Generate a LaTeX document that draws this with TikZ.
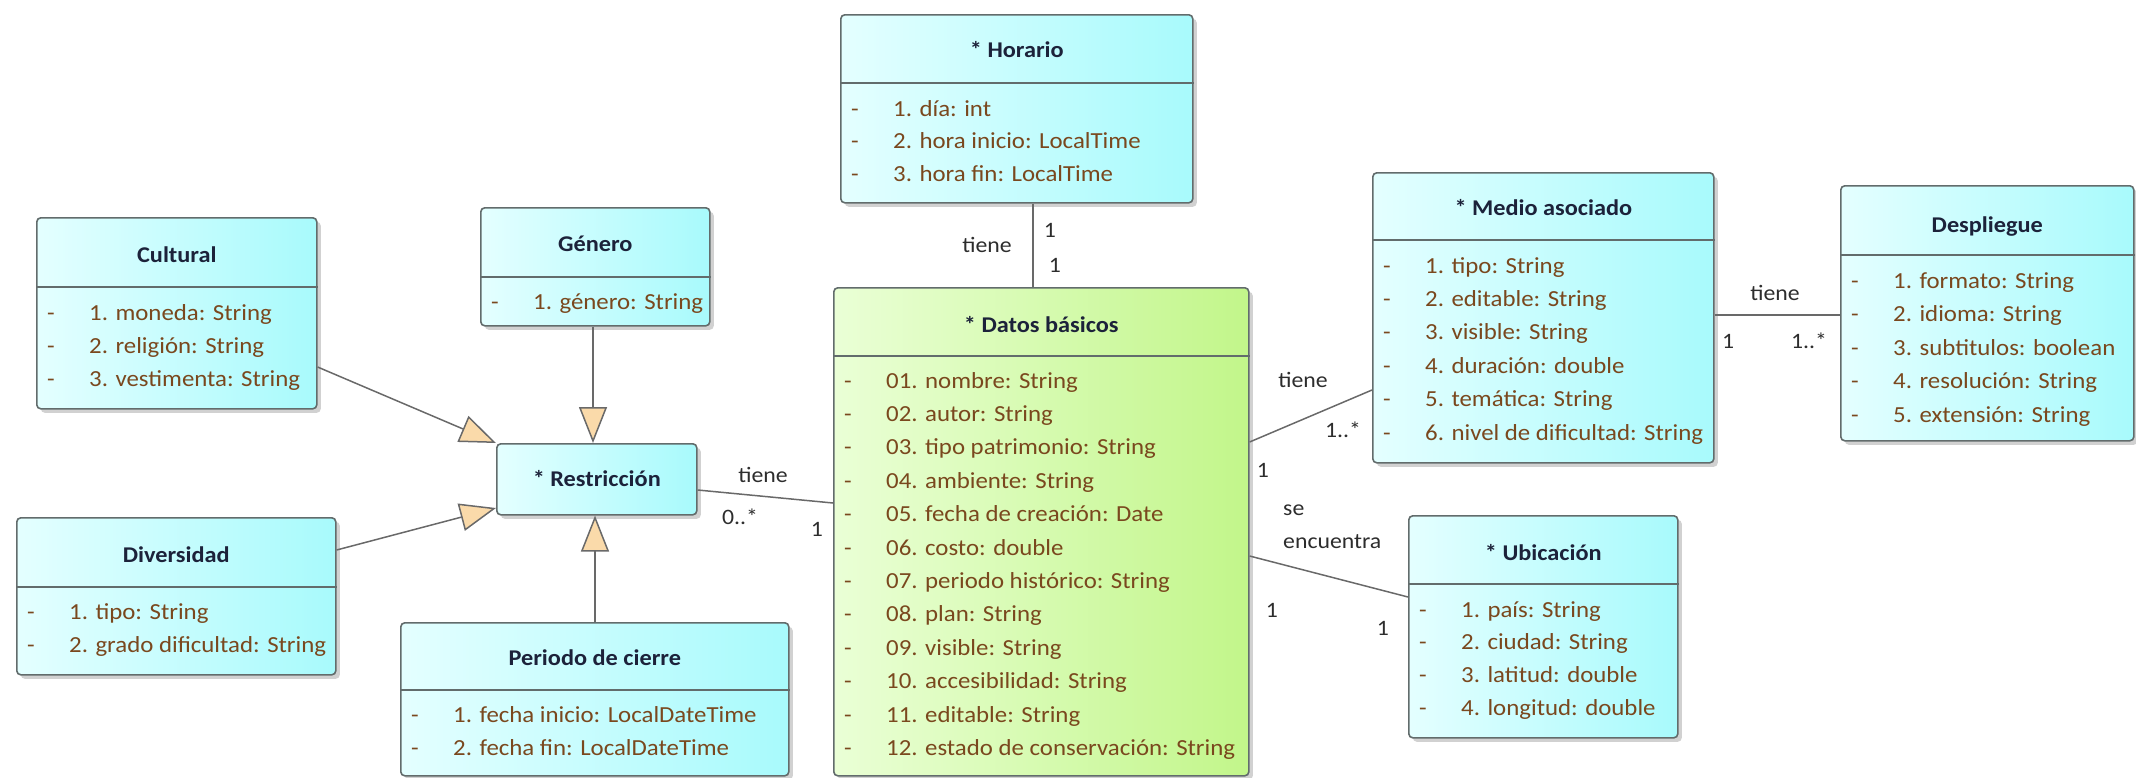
\documentclass[tikz,border=0pt]{standalone}
\usepackage{fontspec}
\setmainfont{Carlito}[FakeStretch=1.08]
\usetikzlibrary{arrows.meta,shadows}

\definecolor{cyanL}{RGB}{228,255,255}
\definecolor{cyanR}{RGB}{168,250,252}
\definecolor{greenL}{RGB}{234,255,214}
\definecolor{greenR}{RGB}{194,246,138}
\definecolor{bordc}{RGB}{98,108,108}
\definecolor{attrc}{RGB}{122,72,30}
\definecolor{titlec}{RGB}{28,34,58}
\definecolor{labc}{RGB}{45,45,45}
\definecolor{tanc}{RGB}{250,218,170}
\definecolor{linec}{RGB}{105,105,105}

\tikzset{
  clsbase/.style={draw=bordc, line width=1.6pt, rounded corners=4pt, anchor=north west, inner sep=0pt,
    drop shadow={opacity=0.3, shadow xshift=4pt, shadow yshift=-4pt, fill=black!60}},
  clsc/.style={clsbase, left color=cyanL, right color=cyanR},
  clsg/.style={clsbase, left color=greenL, right color=greenR},
  divline/.style={draw=bordc, line width=1.6pt},
  ttl/.style={font=\fontsize{22.5}{26}\selectfont\bfseries, text=titlec, inner sep=0pt, text height=15pt, text depth=5pt},
  attr/.style={font=\fontsize{23}{26}\selectfont, text=attrc, inner sep=0pt, text height=15pt, text depth=5pt, anchor=west},
  dsh/.style={font=\fontsize{23}{26}\selectfont, text=attrc, inner sep=0pt, text height=15pt, text depth=5pt},
  lab/.style={font=\fontsize{22}{26}\selectfont, text=labc, inner sep=0pt, text height=15pt, text depth=5pt},
  conn/.style={draw=linec, line width=1.5pt},
  gen/.style={conn, -{Triangle[width=28pt,length=36pt,fill=tanc,line width=1.5pt]}},
}

% #1 name, #2 style, #3 x1, #4 y1, #5 x2, #6 y2, #7 divider y, #8 title, #9 title y
\newcommand{\classbox}[9]{%
  \pgfmathsetmacro{\bw}{#5-#3}%
  \pgfmathsetmacro{\bh}{#6-#4}%
  \node[#2, minimum width=\bw pt, minimum height=\bh pt] (#1) at (#3,#4) {};
  \ifx\relax#7\relax\else
    \draw[divline] (#1.west |- 0,#7) -- (#1.east |- 0,#7);
  \fi
  \node[ttl] (#1-title) at (#1.center |- 0,#9) {#8};
}
% #1 name, #2 x1, #3 first y, #4 step, #5 list
\newcommand{\attrrows}[5]{%
  \foreach \t [count=\i] in {#5} {
    \pgfmathsetmacro{\yy}{#3+(\i-1)*#4}
    \node[dsh] (#1-d\i) at (#2+15,\yy) {-};
    \node[attr] (#1-r\i) at (#2+53,\yy) {\t};
  }
}

\begin{document}
\begin{tikzpicture}[x=1pt,y=-1pt]
\useasboundingbox (0,0) rectangle (2136,777);

% classes
\classbox{horario}{clsc}{840}{14}{1192}{202}{83}{* Horario}{52}
\attrrows{horario}{840}{111}{32.5}{1. día: int, 2. hora inicio: LocalTime, 3. hora fin: LocalTime}

\classbox{genero}{clsc}{480}{207}{709}{325}{277}{Género}{246}
\attrrows{genero}{480}{304}{33}{1. género: String}

\classbox{cultural}{clsc}{36}{217}{316}{408}{287}{Cultural}{257}
\attrrows{cultural}{36}{315}{33}{1. moneda: String, 2. religión: String, 3. vestimenta: String}

\classbox{restr}{clsc}{496}{443}{696}{514}{}{* Restricción}{481}

\classbox{diversidad}{clsc}{16}{517}{335}{674}{587}{Diversidad}{557}
\attrrows{diversidad}{16}{614}{33.5}{1. tipo: String, 2. grado dificultad: String}

\classbox{periodo}{clsc}{400}{622}{788}{775}{690}{Periodo de cierre}{660}
\attrrows{periodo}{400}{717}{33}{1. fecha inicio: LocalDateTime, 2. fecha fin: LocalDateTime}

\classbox{datos}{clsg}{833}{287}{1248}{775}{356}{* Datos básicos}{327}
\attrrows{datos}{833}{383}{33.4}{01. nombre: String, 02. autor: String, 03. tipo patrimonio: String, 04. ambiente: String, 05. fecha de creación: Date, 06. costo: double, 07. periodo histórico: String, 08. plan: String, 09. visible: String, 10. accesibilidad: String, 11. editable: String, 12. estado de conservación: String}

\classbox{medio}{clsc}{1372}{172}{1713}{462}{240}{* Medio asociado}{210}
\attrrows{medio}{1372}{268}{33.4}{1. tipo: String, 2. editable: String, 3. visible: String, 4. duración: double, 5. temática: String, 6. nivel de dificultad: String}

\classbox{despliegue}{clsc}{1840}{185}{2133}{440}{255}{Despliegue}{227}
\attrrows{despliegue}{1840}{283}{33.5}{1. formato: String, 2. idioma: String, 3. subtitulos: boolean, 4. resolución: String, 5. extensión: String}

\classbox{ubicacion}{clsc}{1408}{515}{1677}{737}{584}{* Ubicación}{555}
\attrrows{ubicacion}{1408}{612}{32.8}{1. país: String, 2. ciudad: String, 3. latitud: double, 4. longitud: double}

% associations
\draw[conn] (horario.south -| 1033,0) -- (datos.north -| 1033,0);
\node[lab] (lhd) at (987,247) {tiene};
\node[lab] (lhd1) at (1050,232) {1};
\node[lab] (lhd2) at (1055,267) {1};

\draw[conn] (medio.east |- 0,315) -- (despliegue.west |- 0,315);
\node[lab] (lmd) at (1775,295) {tiene};
\node[lab] (lmd1) at (1728,343) {1};
\node[lab] (lmd2) at (1809,343) {1..*};

\draw[conn] (datos.east |- 0,442) -- (medio.west |- 0,390);
\node[lab] (ldm) at (1303,382) {tiene};
\node[lab] (ldm1) at (1343,432) {1..*};
\node[lab] (ldm2) at (1263,472) {1};

\draw[conn] (datos.east |- 0,556) -- (ubicacion.west |- 0,597);
\node[lab, anchor=west] (ldu) at (1283,510) {se};
\node[lab, anchor=west] (ldu2) at (1283,543) {encuentra};
\node[lab] (ldu3) at (1272,612) {1};
\node[lab] (ldu4) at (1383,630) {1};

\draw[conn] (restr.east |- 0,490) -- (datos.west |- 0,503);
\node[lab] (lrd) at (763,477) {tiene};
\node[lab] (lrd1) at (740,519) {0..*};
\node[lab] (lrd2) at (817,531) {1};

% generalizations
\draw[gen] (cultural.east |- 0,367) -- (restr.north west);
\draw[gen] (genero.south -| 593,0) -- (restr.north -| 593,0);
\draw[gen] (diversidad.east |- 0,550) -- (restr.west |- 0,508);
\draw[gen] (periodo.north -| 595,0) -- (restr.south -| 595,0);
\end{tikzpicture}
\end{document}
